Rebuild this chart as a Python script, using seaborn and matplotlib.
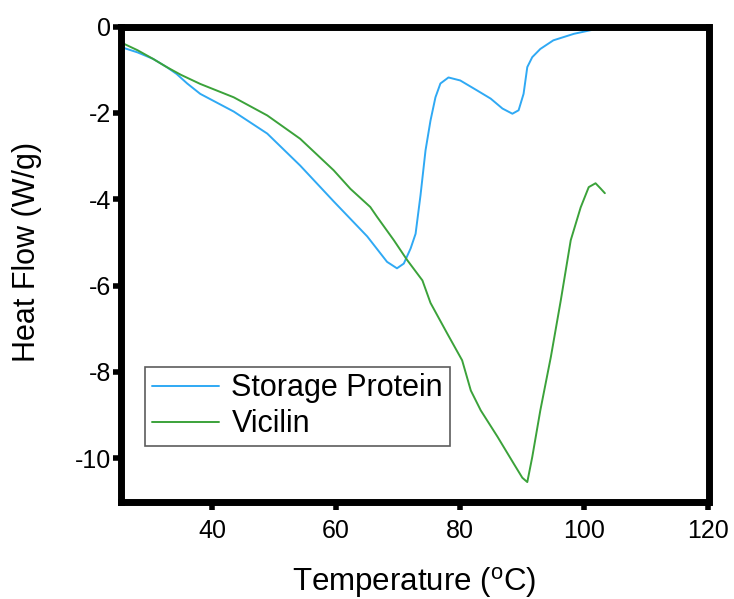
import matplotlib
matplotlib.use("Agg")
import matplotlib.pyplot as plt
import seaborn as sns
import pandas as pd

# ---- data ----
sp_temp = [25.2, 28.0, 30.5, 32.7, 34.3, 36.0, 38.1, 43.5, 48.9, 54.2, 59.6, 65.0,
           68.2, 69.8, 70.9, 72.0, 72.8, 73.6, 74.4, 75.2, 76.0, 76.8, 78.1, 80.0,
           82.7, 84.9, 86.8, 88.4, 89.4, 90.2, 90.8, 91.6, 92.9, 95.0, 98.3, 101.5, 104.2]
sp_flow = [-0.47, -0.60, -0.75, -0.94, -1.10, -1.32, -1.56, -1.97, -2.48, -3.22, -4.05, -4.86,
           -5.45, -5.60, -5.49, -5.14, -4.80, -3.90, -2.87, -2.18, -1.64, -1.32, -1.18, -1.25,
           -1.48, -1.67, -1.90, -2.02, -1.94, -1.56, -0.94, -0.71, -0.52, -0.32, -0.17, -0.07, 0.02]

vi_temp = [25.2, 28.0, 30.5, 32.7, 35.0, 38.1, 43.5, 48.9, 54.2, 59.6, 62.3, 65.5,
           66.6, 69.3, 71.4, 73.9, 75.2, 77.9, 80.3, 81.7, 83.3, 86.0, 88.6, 90.0,
           90.8, 91.6, 92.9, 94.6, 96.2, 97.8, 99.4, 100.7, 101.8, 102.6, 103.3]
vi_flow = [-0.36, -0.55, -0.75, -0.94, -1.12, -1.33, -1.64, -2.06, -2.60, -3.33, -3.76, -4.18,
           -4.41, -4.95, -5.40, -5.88, -6.40, -7.11, -7.73, -8.43, -8.89, -9.50, -10.12, -10.45,
           -10.55, -9.97, -8.89, -7.65, -6.34, -4.95, -4.19, -3.72, -3.63, -3.75, -3.86]

series_names = ["Storage Protein", "Vicilin"]
x_ticks = [40, 60, 80, 100, 120]
y_ticks = [0, -2, -4, -6, -8, -10]

df = pd.concat([
    pd.DataFrame({"Temperature": sp_temp, "Heat Flow": sp_flow, "Sample": series_names[0]}),
    pd.DataFrame({"Temperature": vi_temp, "Heat Flow": vi_flow, "Sample": series_names[1]}),
], ignore_index=True)

sns.set_theme(style="white")
plt.rcParams["font.family"] = ["Liberation Sans", "DejaVu Sans"]
plt.rcParams["mathtext.fontset"] = "custom"
plt.rcParams["mathtext.rm"] = "Liberation Sans"
plt.rcParams["text.color"] = "black"
plt.rcParams["axes.labelcolor"] = "black"

fig = plt.figure(figsize=(7.34, 5.99), dpi=100)
ax = fig.add_axes([120.5 / 734, 1 - 501.5 / 599, (708.5 - 120.5) / 734, (501.5 - 26.5) / 599])

palette = {"Storage Protein": "#2FA9F4", "Vicilin": "#3BA23A"}
sns.lineplot(data=df, x="Temperature", y="Heat Flow", hue="Sample", palette=palette,
             estimator=None, sort=False, linewidth=1.4, ax=ax)

ax.set_xlim(25.25, 120)
ax.set_ylim(-11, 0)
ax.set_xticks(x_ticks)
ax.set_yticks(y_ticks)
ax.set_xticklabels([str(t) for t in x_ticks])
ax.set_yticklabels([str(t) for t in y_ticks])

for s in ax.spines.values():
    s.set_linewidth(5)
    s.set_color("black")
    s.set_visible(True)

ax.tick_params(axis="both", which="major", direction="out", length=5.5, width=4,
               color="black", labelsize=18, labelcolor="black",
               bottom=True, left=True, top=False, right=False)
ax.tick_params(axis="x", pad=7)
ax.tick_params(axis="y", pad=1)

ax.set_xlabel(r"Temperature ($\mathregular{^{o}}$C)", fontsize=22.5, labelpad=16, color="black")
ax.set_ylabel("Heat Flow (W/g)", fontsize=22, labelpad=24, color="black")
ax.yaxis.label.set_y(0.525)

leg = ax.legend(loc="upper left", bbox_to_anchor=(0.042, 0.284), borderaxespad=0,
                fontsize=22, frameon=True, fancybox=False, handlelength=2.2,
                handletextpad=0.4, labelspacing=0.2, borderpad=0.22)
leg.get_frame().set_edgecolor("#333333")
leg.get_frame().set_linewidth(1.2)
for t in leg.get_texts():
    t.set_color("black")
leg.set_title(None)

fig.savefig("out.png", dpi=100)
